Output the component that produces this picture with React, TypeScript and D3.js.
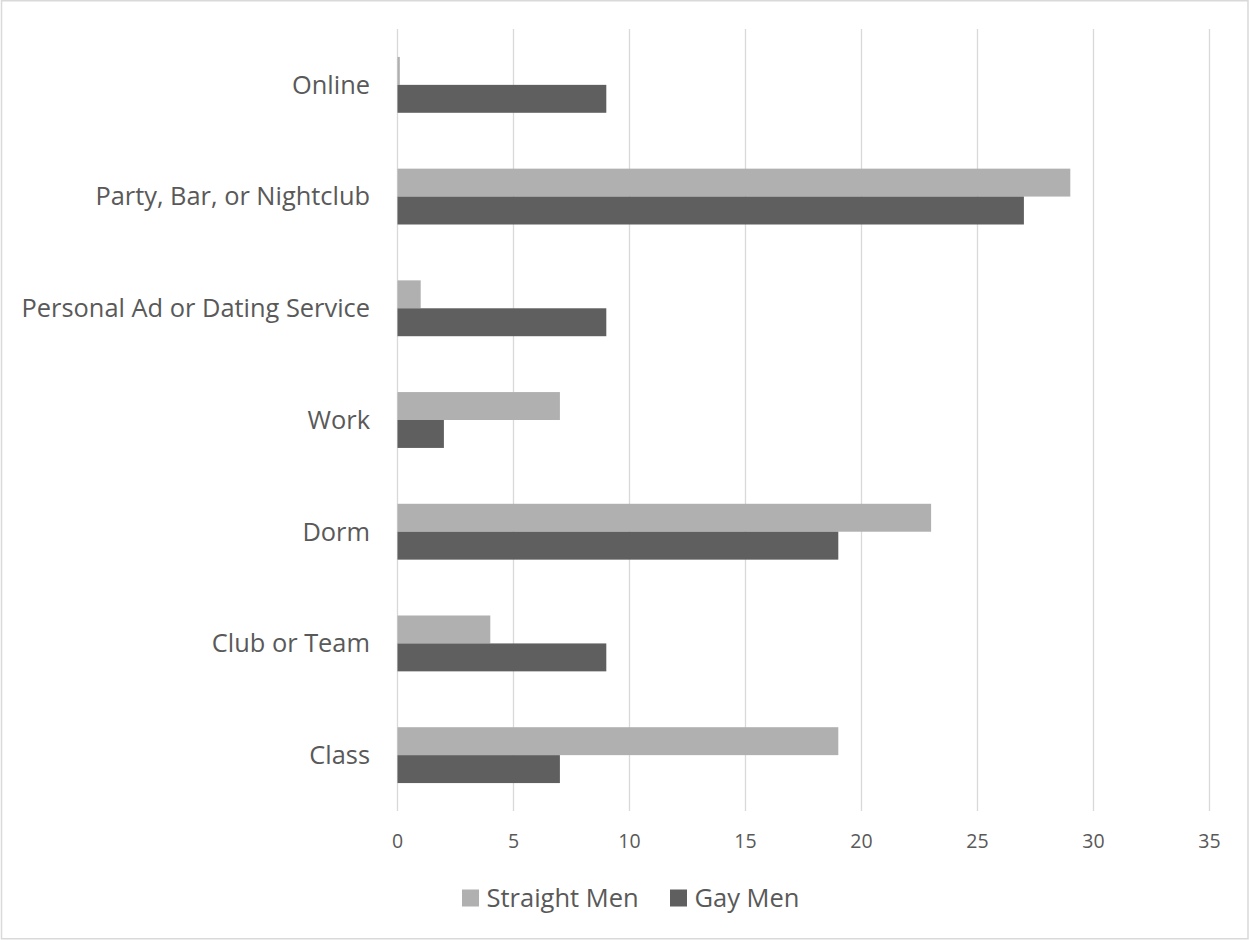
import React from "react";
import * as d3 from "d3";

const categories = [
  "Online",
  "Party, Bar, or Nightclub",
  "Personal Ad or Dating Service",
  "Work",
  "Dorm",
  "Club or Team",
  "Class",
];
const straightMen = [0.1, 29, 1, 7, 23, 4, 19];
const gayMen = [9, 27, 9, 2, 19, 9, 7];
const seriesNames = ["Straight Men", "Gay Men"];
const seriesColors = ["#b0b0b0", "#5f5f5f"];
const xTicks = [0, 5, 10, 15, 20, 25, 30, 35];

const W = 1249;
const H = 940;
const FONT = "'Open Sans', 'DejaVu Sans', sans-serif";
const TEXT = "#595959";

export default function App() {
  const x = d3.scaleLinear().domain([0, 35]).range([397.5, 1209.5]);
  const y = d3.scaleBand<string>().domain(categories).range([29, 811]).padding(0);
  const bh = y.bandwidth() / 4;
  const series = [straightMen, gayMen];

  return (
    <svg
      width={W}
      height={H}
      style={{ position: "absolute", left: 0, top: 0, background: "#fff" }}
    >
      <rect x={1.5} y={0.75} width={W - 2.5} height={H - 2} fill="#fff" stroke="#d9d9d9" strokeWidth={1.5} />
      {xTicks.map((t) => (
        <line key={"g" + t} x1={x(t)} x2={x(t)} y1={29} y2={811} stroke="#d9d9d9" strokeWidth={1.3} />
      ))}
      {categories.map((c, i) => {
        const cy = (y(c) as number) + y.bandwidth() / 2;
        return (
          <g key={c}>
            {series.map((s, si) => (
              <rect
                key={si}
                x={x(0)}
                y={cy - bh + si * bh}
                width={x(s[i]) - x(0)}
                height={bh}
                fill={seriesColors[si]}
              />
            ))}
            <text
              x={370}
              y={cy}
              dy="0.35em"
              textAnchor="end"
              fontFamily={FONT}
              fontSize={25.4}
              fill={TEXT}
            >
              {c}
            </text>
          </g>
        );
      })}
      {xTicks.map((t) => (
        <text
          key={"t" + t}
          x={x(t)}
          y={841.5}
          dy="0.35em"
          textAnchor="middle"
          fontFamily={FONT}
          fontSize={19.5}
          fill={TEXT}
        >
          {t}
        </text>
      ))}
      {seriesNames.map((n, i) => {
        const sx = [462, 670][i];
        return (
          <g key={n}>
            <rect x={sx} y={889.5} width={17} height={17} fill={seriesColors[i]} />
            <text
              x={sx + 24.5}
              y={898}
              dy="0.35em"
              fontFamily={FONT}
              fontSize={25.5}
              fill={TEXT}
            >
              {n}
            </text>
          </g>
        );
      })}
    </svg>
  );
}
